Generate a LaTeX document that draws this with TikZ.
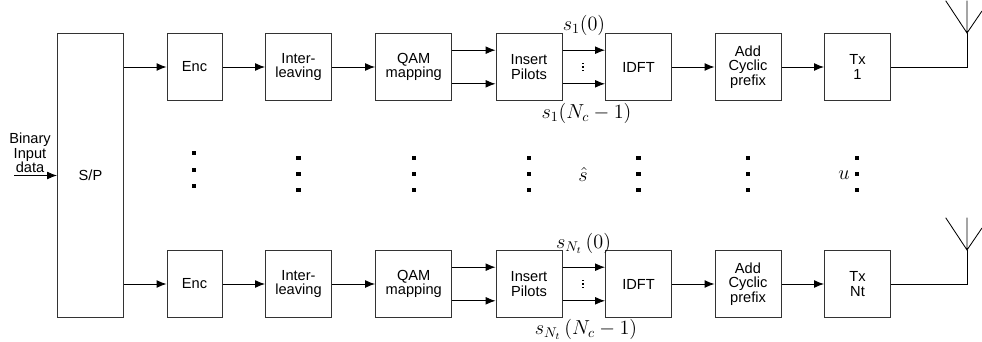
\documentclass[tikz,border=0pt]{standalone}
\usepackage{amsmath,amssymb}
\usepackage{fontspec}
\setmainfont{Liberation Sans}
\usetikzlibrary{arrows.meta,positioning,calc}

\begin{document}
\begin{tikzpicture}[
    x=0.025cm, y=-0.025cm,
    box/.style={draw=black!80, line width=0.7pt, minimum width=1.65cm, minimum height=1.66cm, inner sep=0pt, align=center, font=\fontsize{10.4}{10.4}\selectfont},
    arr/.style={-{Latex[length=7pt,width=5.5pt]}, line width=0.6pt},
    lbl/.style={inner sep=0pt, font=\fontsize{14}{16}\selectfont},
    bigdot/.style={fill=black, inner sep=0pt, minimum size=2.9pt},
    tinydot/.style={fill=black, inner sep=0pt, minimum size=1.3pt}
]
\useasboundingbox (0,0) rectangle (982,342);

% serial to parallel
\node[box, minimum height=7.08cm] (sp) at (90.5,175.5) {S/P};
\node[inner sep=0pt, align=center, font=\fontsize{10.4}{10.4}\selectfont] (input) at (30,153) {Binary\\Input\\data};
\coordinate (instart) at (14,175.5);

% upper chain
\node[box, minimum width=1.375cm] (enc1) at (194.5,67) {Enc};
\node[box] (int1) at (298.5,67) {Inter-\\leaving};
\node[box, minimum width=1.91cm] (qam1) at (413.75,67) {QAM\\mapping};
\node[box] (pil1) at (529,67) {Insert\\Pilots};
\node[box] (idft1) at (638.5,67) {IDFT};
\node[box] (cp1) at (748,67) {Add\\Cyclic\\prefix};
\node[box] (tx1) at (857.5,67) {Tx\\1};

% lower chain
\node[box, minimum width=1.375cm] (enc2) at (194.5,284) {Enc};
\node[box] (int2) at (298.5,284) {Inter-\\leaving};
\node[box, minimum width=1.91cm] (qam2) at (413.75,284) {QAM\\mapping};
\node[box] (pil2) at (529,284) {Insert\\Pilots};
\node[box] (idft2) at (638.5,284) {IDFT};
\node[box] (cp2) at (748,284) {Add\\Cyclic\\prefix};
\node[box] (tx2) at (857.5,284) {Tx\\Nt};

% symbol labels
\node[lbl] (s1a) at (584,25) {$s_1(0)$};
\node[lbl] (s1b) at (586.5,113) {$s_1(N_c-1)$};
\node[lbl] (s2a) at (583.5,243) {$s_{N_t}\,(0)$};
\node[lbl] (s2b) at (586,329) {$s_{N_t}\,(N_c-1)$};
\node[lbl] (shat) at (583,174) {$\hat{s}$};
\node[lbl] (uvec) at (844,175) {$u$};

% dots between the chains
\foreach \cx/\cy in {298.5/158,298.5/174,298.5/190,414/158,414/174,414/190,529/158,529/174,529/190,638.5/158,638.5/174,638.5/190,748/158,748/174,748/190,857/158,857/174,857/190,194/153,194/170,194/186}
    \node[bigdot] (dot\cx-\cy) at (\cx,\cy) {};
\foreach \cy in {63.5,67,70.5,280.5,284,287.5}
    \node[tinydot] (tiny\cy) at (583,\cy) {};

% antennas
\coordinate (ant1) at (967,33);
\coordinate (ant2) at (967,250);
\draw[line width=0.6pt] (tx1) -| (ant1);
\draw[line width=0.6pt] (ant1) -- (967,0.7) (945.7,0.7) -- (ant1) -- (982,11);
\draw[line width=0.6pt] (tx2) -| (ant2);
\draw[line width=0.6pt] (ant2) -- (967,217.7) (945.7,217.7) -- (ant2) -- (982,228);

\draw[arr] (instart) -- (instart -| sp.west);
\draw[arr] (sp.east |- enc1) -- (enc1);
\draw[arr] (sp.east |- enc2) -- (enc2);

\draw[arr] (enc1) -- (int1);
\draw[arr] (int1) -- (qam1);
\draw[arr] ([yshift=0.42cm]qam1.east) -- ([yshift=0.42cm]pil1.west);
\draw[arr] ([yshift=-0.42cm]qam1.east) -- ([yshift=-0.42cm]pil1.west);
\draw[arr] ([yshift=0.42cm]pil1.east) -- ([yshift=0.42cm]idft1.west);
\draw[arr] ([yshift=-0.42cm]pil1.east) -- ([yshift=-0.42cm]idft1.west);
\draw[arr] (idft1) -- (cp1);
\draw[arr] (cp1) -- (tx1);

\draw[arr] (enc2) -- (int2);
\draw[arr] (int2) -- (qam2);
\draw[arr] ([yshift=0.42cm]qam2.east) -- ([yshift=0.42cm]pil2.west);
\draw[arr] ([yshift=-0.42cm]qam2.east) -- ([yshift=-0.42cm]pil2.west);
\draw[arr] ([yshift=0.42cm]pil2.east) -- ([yshift=0.42cm]idft2.west);
\draw[arr] ([yshift=-0.42cm]pil2.east) -- ([yshift=-0.42cm]idft2.west);
\draw[arr] (idft2) -- (cp2);
\draw[arr] (cp2) -- (tx2);
\end{tikzpicture}
\end{document}
